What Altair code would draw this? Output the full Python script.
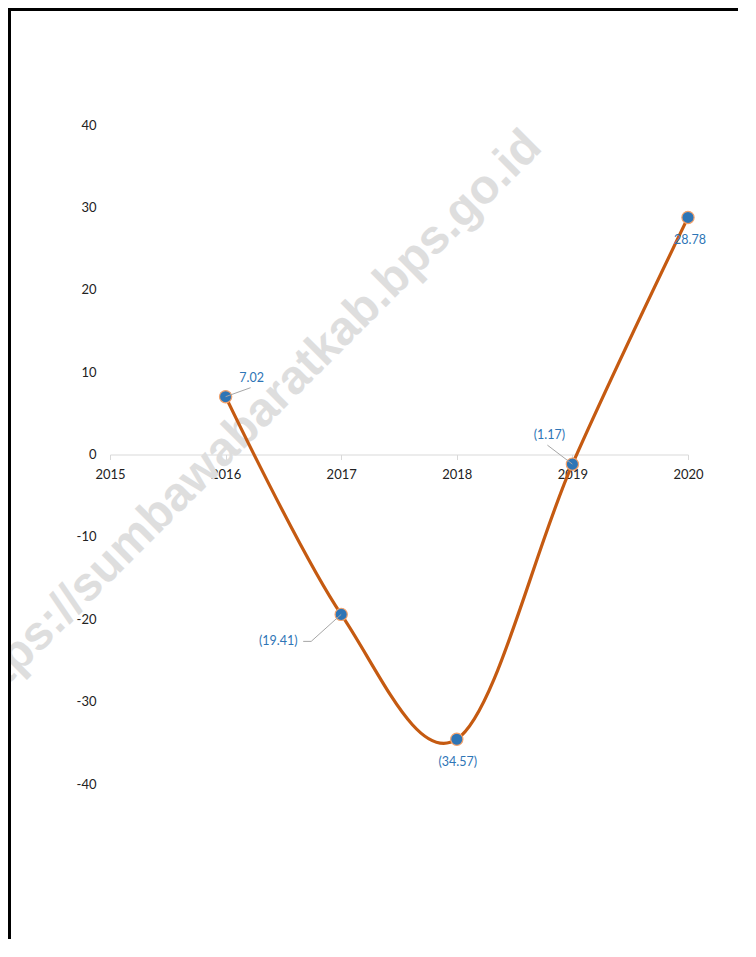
import altair as alt
import pandas as pd

# ---- data ----
years = [2016, 2017, 2018, 2019, 2020]
values = [7.02, -19.41, -34.57, -1.17, 28.78]
labels = [f"({abs(v):.2f})" if v < 0 else f"{v:.2f}" for v in values]
x_ticks = [2015, 2016, 2017, 2018, 2019, 2020]
y_ticks = [-40, -30, -20, -10, 0, 10, 20, 30, 40]
watermark = ["https://sumbawabaratkab.bps.go.id"]

df = pd.DataFrame({"year": years, "value": values, "label": labels})
one = pd.DataFrame({"t": watermark})

# ---- layout / style ----
W, H = 578, 659
PAD = {"left": 102, "top": 117, "right": 50, "bottom": 155}
FONT = "Lato"
LABEL_BLUE = "#2E75B6"

x_enc = alt.X(
    "year:Q",
    scale=alt.Scale(domain=[2015, 2020], nice=False, zero=False),
    axis=alt.Axis(
        values=x_ticks, format="d", orient="bottom", offset=-H / 2,
        domainColor="#D9D9D9", domainWidth=1, tickColor="#D9D9D9", tickSize=5,
        labelPadding=9, labelFontSize=13, labelColor="#222222", labelFont=FONT,
        labelFlush=False, labelOverlap=False, grid=False, title=None,
    ),
)
y_enc = alt.Y(
    "value:Q",
    scale=alt.Scale(domain=[-40, 40], nice=False, zero=False),
    axis=alt.Axis(
        values=y_ticks, domain=False, ticks=False, tickSize=0, labelPadding=14,
        labelExpr="datum.value + ''",
        labelFontSize=13, labelColor="#222222", labelFont=FONT,
        labelFlush=False, labelOverlap=False, grid=False, title=None,
    ),
)

base = alt.Chart(df)

wm = alt.Chart(one).mark_text(
    angle=315, fontSize=48, font="Liberation Sans", fontWeight="bold",
    color="#DEDEDE", align="center", baseline="middle",
).encode(x=alt.value(139), y=alt.value(299), text="t:N")

frame_left = alt.Chart(one).mark_rule(color="#000000", strokeWidth=3).encode(
    x=alt.value(-PAD["left"] + 1.5), y=alt.value(-PAD["top"]), y2=alt.value(H + PAD["bottom"])
)
frame_top = alt.Chart(one).mark_rule(color="#000000", strokeWidth=3).encode(
    x=alt.value(-PAD["left"]), x2=alt.value(W + PAD["right"]), y=alt.value(-PAD["top"] + 1.5)
)

line = base.mark_line(interpolate="cardinal", color="#C55A11", strokeWidth=3.2).encode(x=x_enc, y=y_enc)

points = base.mark_circle(size=150, color="#2E75B6", opacity=1, stroke="#F4A26B", strokeWidth=1.2).encode(
    x=x_enc, y=y_enc
)

leaders = {
    2016: [(0, 0, 25, -9)],
    2017: [(0, 0, -30, 27), (-30, 27, -38, 27)],
    2019: [(0, 0, -25, -19)],
}
label_off = {2016: (26, -19), 2017: (-63, 27), 2018: (1, 23), 2019: (-23, -29), 2020: (2, 23)}

layers = [wm, frame_left, frame_top, line, points]
for yr, segs in leaders.items():
    for (x0, y0, x1, y1) in segs:
        layers.append(
            base.transform_filter(alt.datum.year == yr)
            .mark_rule(color="#A6A6A6", strokeWidth=1, xOffset=x0, yOffset=y0, x2Offset=x1, y2Offset=y1)
            .encode(x=x_enc, y=y_enc, x2="year:Q", y2="value:Q")
        )
for yr, (dx, dy) in label_off.items():
    layers.append(
        base.transform_filter(alt.datum.year == yr)
        .mark_text(dx=dx, dy=dy, fontSize=12.5, font=FONT, color=LABEL_BLUE, align="center", baseline="middle")
        .encode(x=x_enc, y=y_enc, text="label:N")
    )

chart = (
    alt.layer(*layers)
    .properties(width=W, height=H, padding=PAD, autosize=alt.AutoSizeParams(type="none"), background="white")
    .configure_view(stroke=None)
)

chart.save("out.html", embed_options={"renderer": "svg", "actions": False})
